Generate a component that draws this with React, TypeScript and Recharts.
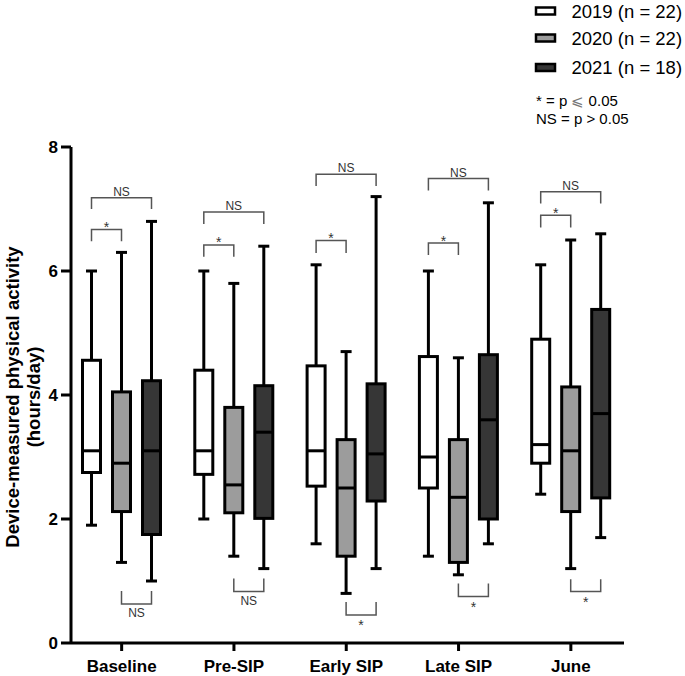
import React from 'react';
import { ComposedChart, Bar, XAxis, YAxis } from 'recharts';

const categories = ['Baseline', 'Pre-SIP', 'Early SIP', 'Late SIP', 'June'];

// [min, q1, median, q3, max] hours/day
const box2019 = [
  [1.9, 2.75, 3.1, 4.56, 6.0],
  [2.0, 2.72, 3.1, 4.4, 6.0],
  [1.6, 2.53, 3.1, 4.47, 6.1],
  [1.4, 2.5, 3.0, 4.62, 6.0],
  [2.4, 2.9, 3.2, 4.9, 6.1],
];
const box2020 = [
  [1.3, 2.12, 2.9, 4.05, 6.3],
  [1.4, 2.1, 2.55, 3.8, 5.8],
  [0.8, 1.4, 2.5, 3.28, 4.7],
  [1.1, 1.3, 2.35, 3.28, 4.6],
  [1.2, 2.12, 3.1, 4.13, 6.5],
];
const box2021 = [
  [1.0, 1.75, 3.1, 4.23, 6.8],
  [1.2, 2.01, 3.4, 4.15, 6.4],
  [1.2, 2.29, 3.05, 4.18, 7.2],
  [1.6, 2.0, 3.6, 4.65, 7.1],
  [1.7, 2.34, 3.7, 5.38, 6.6],
];

// significance brackets: series a -> series b, bar level, leg end level, label
const brackets = [
  [{ a: 0, b: 2, y: 7.18, leg: 7.0, t: 'NS' }, { a: 0, b: 1, y: 6.67, leg: 6.48, t: '*' }, { a: 1, b: 2, y: 0.63, leg: 0.84, t: 'NS' }],
  [{ a: 0, b: 2, y: 6.95, leg: 6.76, t: 'NS' }, { a: 0, b: 1, y: 6.42, leg: 6.23, t: '*' }, { a: 1, b: 2, y: 0.83, leg: 1.04, t: 'NS' }],
  [{ a: 0, b: 2, y: 7.56, leg: 7.37, t: 'NS' }, { a: 0, b: 1, y: 6.49, leg: 6.29, t: '*' }, { a: 1, b: 2, y: 0.45, leg: 0.66, t: '*' }],
  [{ a: 0, b: 2, y: 7.49, leg: 7.3, t: 'NS' }, { a: 0, b: 1, y: 6.45, leg: 6.26, t: '*' }, { a: 1, b: 2, y: 0.75, leg: 0.96, t: '*' }],
  [{ a: 0, b: 2, y: 7.28, leg: 7.09, t: 'NS' }, { a: 0, b: 1, y: 6.9, leg: 6.7, t: '*' }, { a: 1, b: 2, y: 0.83, leg: 1.03, t: '*' }],
];

const yTicks = [0, 2, 4, 6, 8];

const FONT = '"Liberation Sans", Arial, sans-serif';
const BAR_SIZE = 18;
const BAR_GAP = 12;
const BRACKET = '#555';

const data = categories.map((name, i) => ({
  name,
  i,
  y2019: [box2019[i][0], box2019[i][4]],
  y2020: [box2020[i][0], box2020[i][4]],
  y2021: [box2021[i][0], box2021[i][4]],
}));

const makeBox = (stats: number[][], fill: string, series: number) => (props: any) => {
  const { x, y, width, height, payload } = props;
  const idx = payload && payload.i != null ? payload.i : props.index;
  const s = stats[idx];
  const top = Math.min(y, y + height);
  const bottom = Math.max(y, y + height);
  const k = (bottom - top) / (s[4] - s[0]);
  const py = (v: number) => bottom - (v - s[0]) * k;
  const cx = x + width / 2;
  const cap = 5.5;
  const pos = (n: number) => cx + (n - series) * (width + BAR_GAP);

  return (
    <g>
      <line x1={cx} x2={cx} y1={py(s[4])} y2={py(s[0])} stroke="#000" strokeWidth={3} />
      <line x1={cx - cap} x2={cx + cap} y1={py(s[4])} y2={py(s[4])} stroke="#000" strokeWidth={3} />
      <line x1={cx - cap} x2={cx + cap} y1={py(s[0])} y2={py(s[0])} stroke="#000" strokeWidth={3} />
      <rect x={x} y={py(s[3])} width={width} height={py(s[1]) - py(s[3])} fill={fill} stroke="#000" strokeWidth={3} />
      <line x1={x} x2={x + width} y1={py(s[2])} y2={py(s[2])} stroke="#000" strokeWidth={3} />
      {series === 1 &&
        brackets[idx].map((b, j) => {
          const x1 = pos(b.a);
          const x2 = pos(b.b);
          const yl = py(b.y);
          const above = b.leg < b.y;
          const star = b.t === '*';
          let ty;
          if (above) ty = star ? yl + 2.5 : yl - 2;
          else ty = star ? yl + 15 : yl + 13;
          return (
            <g key={j}>
              <path
                d={`M${x1},${py(b.leg)} L${x1},${yl} L${x2},${yl} L${x2},${py(b.leg)}`}
                fill="none"
                stroke={BRACKET}
                strokeWidth={1.5}
              />
              <text
                x={(x1 + x2) / 2}
                y={ty}
                textAnchor="middle"
                fontFamily={FONT}
                fontSize={star ? 14 : 12}
                fill="#333"
              >
                {b.t}
              </text>
            </g>
          );
        })}
    </g>
  );
};

const YTitle = () => (
  <g fontFamily={FONT} fontWeight="bold" fontSize={18.5} fill="#000">
    <text x={12} y={397} transform="rotate(-90 12 397)" textAnchor="middle" dominantBaseline="central">
      Device-measured physical activity
    </text>
    <text x={33} y={397} transform="rotate(-90 33 397)" textAnchor="middle" dominantBaseline="central">
      (hours/day)
    </text>
  </g>
);

const legendItems = [
  { label: '2019 (n = 22)', fill: '#ffffff', y: 11 },
  { label: '2020 (n = 22)', fill: '#9c9c9c', y: 38 },
  { label: '2021 (n = 18)', fill: '#363636', y: 67.5 },
];

const LegendBox = () => (
  <svg width={155} height={130} style={{ position: 'absolute', left: 530, top: 0 }}>
    {legendItems.map((it) => (
      <g key={it.label}>
        <rect x={6} y={it.y - 3.5} width={19} height={7} fill={it.fill} stroke="#000" strokeWidth={2.5} />
        <text x={41.5} y={it.y} dominantBaseline="central" fontFamily={FONT} fontSize={18.5} fill="#000">
          {it.label}
        </text>
      </g>
    ))}
    <text x={6} y={100} dominantBaseline="central" fontFamily={FONT} fontSize={15} fill="#000">
      * = p <tspan fill="#777">⩽</tspan> 0.05
    </text>
    <text x={6} y={118} dominantBaseline="central" fontFamily={FONT} fontSize={15} fill="#000">
      NS = p &gt; 0.05
    </text>
  </svg>
);

export default function App() {
  return (
    <div style={{ position: 'absolute', left: 0, top: 0, width: 685, height: 676, background: '#fff' }}>
      <ComposedChart
        width={685}
        height={676}
        data={data}
        margin={{ top: 147, right: 61, bottom: 0, left: 0 }}
        barSize={BAR_SIZE}
        barGap={BAR_GAP}
      >
        <XAxis
          dataKey="name"
          height={33}
          padding={{ left: -5.5, right: -3 }}
          axisLine={{ stroke: '#000', strokeWidth: 3 }}
          tickLine={{ stroke: '#000', strokeWidth: 3 }}
          tickSize={8}
          tickMargin={9}
          tick={{ fill: '#000', fontSize: 17, fontWeight: 'bold', fontFamily: FONT }}
          interval={0}
        />
        <YAxis
          type="number"
          domain={[0, 8]}
          ticks={yTicks}
          width={71}
          allowDataOverflow
          axisLine={{ stroke: '#000', strokeWidth: 3 }}
          tickLine={{ stroke: '#000', strokeWidth: 3 }}
          tickSize={10}
          tickMargin={3}
          tick={{ fill: '#000', fontSize: 17, fontWeight: 'bold', fontFamily: FONT }}
          label={() => <YTitle />}
        />
        <Bar dataKey="y2019" isAnimationActive={false} shape={makeBox(box2019, '#ffffff', 0)} />
        <Bar dataKey="y2020" isAnimationActive={false} shape={makeBox(box2020, '#9c9c9c', 1)} />
        <Bar dataKey="y2021" isAnimationActive={false} shape={makeBox(box2021, '#363636', 2)} />
      </ComposedChart>
      <LegendBox />
    </div>
  );
}
